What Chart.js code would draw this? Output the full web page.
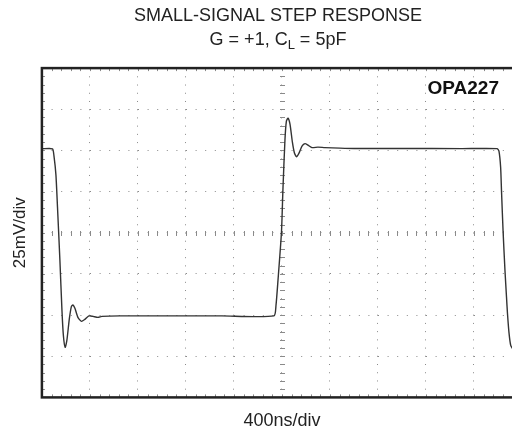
<!DOCTYPE html>
<html>
<head>
<meta charset="utf-8">
<script src="https://cdn.jsdelivr.net/npm/chart.js@4.4.0/dist/chart.umd.min.js"></script>
<style>
  html, body { margin: 0; padding: 0; background: #fff; overflow: hidden; }
  #wrap { width: 556px; height: 433px; }
</style>
</head>
<body>
<div id="wrap"><canvas id="scope" width="556" height="433"></canvas></div>
<script>
// scope trace: time in ns, output in mV (0 = centre line)
const timeNs = [0, 88, 100, 117, 133, 150, 167, 179, 194, 208, 229, 246, 258, 275, 300, 329, 358, 392, 425, 467, 500, 650, 1000, 1500, 1933,
  1950, 1967, 1996, 2008, 2025, 2037, 2050, 2067, 2087, 2104, 2121, 2142, 2167, 2192, 2217, 2250, 2300, 2358, 2483, 2600, 3000, 3500, 3792,
  3808, 3822, 3829, 3842, 3858, 3871, 3879, 3892, 3906, 3925];
const outputMv = [51, 51, 47, 35, 10.6, -16.7, -47, -62.4, -69.6, -65.4, -52, -44.7, -43.8, -45.9, -51.4, -53.8, -52.6, -50.5, -50.8, -51.4, -50.8, -50.5, -50.5, -50.5, -50.5,
  -44.4, -28.9, 0.3, 25.9, 56.3, 67.8, 69.6, 66, 55, 48.4, 46.2, 48.4, 52.6, 54.1, 53.2, 51.7, 52, 51.7, 51.4, 51.2, 51.2, 51.1, 51.1,
  49.6, 39.8, 25.9, 1.5, -22.8, -39.2, -49, -61, -68.4, -70.9];

// screen: 10 horizontal divisions of 400ns, 8 vertical divisions of 25mV
const nsPerDiv = 400;
const mvPerDiv = 25;
const xDivs = 10;
const yDivs = 8;

const points = timeNs.map((t, i) => ({ x: t, y: outputMv[i] }));
const FONT = "'Liberation Sans', Arial, sans-serif";

const scopeDecor = {
    id: "scopeDecor",
    beforeDatasetsDraw(chart) {
        const { ctx, chartArea: a, scales: { x, y } } = chart;
        const cx = Math.round(x.getPixelForValue(nsPerDiv * xDivs / 2)) + 0.5;
        const cy = Math.round(y.getPixelForValue(0)) + 0.5;
        ctx.save();
        ctx.strokeStyle = "#8a8a8a";
        ctx.lineWidth = 1;
        ctx.beginPath();
        // minor ticks along the centre lines and the frame
        for (let t = 0; t <= nsPerDiv * xDivs; t += nsPerDiv / 5) {
            const px = Math.round(x.getPixelForValue(t)) + 0.5;
            ctx.moveTo(px, cy - 2.5); ctx.lineTo(px, cy + 2.5);
            ctx.moveTo(px, a.top); ctx.lineTo(px, a.top + 3);
            ctx.moveTo(px, a.bottom); ctx.lineTo(px, a.bottom - 3);
        }
        for (let v = -mvPerDiv * yDivs / 2; v <= mvPerDiv * yDivs / 2; v += mvPerDiv / 5) {
            const py = Math.round(y.getPixelForValue(v)) + 0.5;
            ctx.moveTo(cx - 2.5, py); ctx.lineTo(cx + 2.5, py);
            ctx.moveTo(a.left, py); ctx.lineTo(a.left + 3, py);
        }
        ctx.stroke();
        ctx.restore();
    },
    afterDatasetsDraw(chart) {
        const { ctx, chartArea: a } = chart;
        ctx.save();
        // frame
        ctx.strokeStyle = "#222";
        ctx.lineWidth = 2.5;
        ctx.strokeRect(a.left, a.top, a.right - a.left, a.bottom - a.top);
        // part label
        ctx.fillStyle = "#111";
        ctx.font = "bold 19px " + FONT;
        ctx.textAlign = "right";
        ctx.textBaseline = "alphabetic";
        ctx.fillText("OPA227", 499, 94);
        ctx.restore();
    },
    afterDraw(chart) {
        // second title line with the subscript L
        const { ctx } = chart;
        const tb = chart.titleBlock;
        ctx.save();
        ctx.fillStyle = "#222";
        ctx.textBaseline = "alphabetic";
        ctx.textAlign = "left";
        const big = "18px " + FONT;
        const small = "13px " + FONT;
        const p1 = "G = +1, C", p2 = "L", p3 = " = 5pF";
        ctx.font = big;
        const w1 = ctx.measureText(p1).width, w3 = ctx.measureText(p3).width;
        ctx.font = small;
        const w2 = ctx.measureText(p2).width;
        let xx = (tb.left + tb.right) / 2 - (w1 + w2 + w3) / 2;
        const base = 45;
        ctx.font = big; ctx.fillText(p1, xx, base); xx += w1;
        ctx.font = small; ctx.fillText(p2, xx, base + 4); xx += w2;
        ctx.font = big; ctx.fillText(p3, xx, base);
        ctx.restore();
    }
};

new Chart(document.getElementById("scope"), {
    type: "line",
    data: {
        datasets: [{
            data: points,
            borderColor: "#333",
            borderWidth: 1.4,
            pointRadius: 0,
            tension: 0.2,
            fill: false
        }]
    },
    options: {
        responsive: false,
        animation: false,
        layout: { padding: { left: 0, right: 0, top: 0, bottom: 1 } },
        plugins: {
            legend: { display: false },
            tooltip: { enabled: false },
            title: {
                display: true,
                text: "SMALL-SIGNAL STEP RESPONSE",
                color: "#222",
                font: { family: FONT, size: 18, weight: "normal" },
                padding: { top: 5, bottom: 41.5 }
            }
        },
        scales: {
            x: {
                type: "linear",
                min: 0,
                max: nsPerDiv * xDivs,
                ticks: { display: false, stepSize: nsPerDiv },
                grid: { color: "#8a8a8a", lineWidth: 1, drawTicks: false },
                border: { display: false, dash: [1, 7.22] },
                title: {
                    display: true, text: "400ns/div", color: "#222",
                    font: { family: FONT, size: 18 },
                    padding: { top: 13, bottom: 0 }
                }
            },
            y: {
                min: -mvPerDiv * yDivs / 2,
                max: mvPerDiv * yDivs / 2,
                ticks: { display: false, stepSize: mvPerDiv },
                grid: { color: "#8a8a8a", lineWidth: 1, drawTicks: false },
                border: { display: false, dash: [1, 8.6] },
                title: {
                    display: true, text: "25mV/div", color: "#222",
                    font: { family: FONT, size: 17 },
                    padding: { top: 10, bottom: 11.5 }
                }
            },
            // empty right-hand scale: the screen runs on past the picture's edge
            yRight: {
                position: "right",
                min: -mvPerDiv * yDivs / 2,
                max: mvPerDiv * yDivs / 2,
                ticks: { display: false },
                grid: { drawOnChartArea: false, drawTicks: false },
                border: { display: false },
                afterFit(scale) { scale.width = 34; }
            }
        }
    },
    plugins: [scopeDecor]
});
</script>
</body>
</html>
